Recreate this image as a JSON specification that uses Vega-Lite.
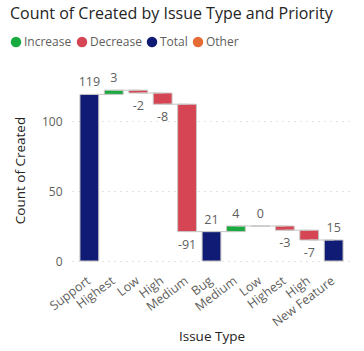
{
  "$schema": "https://vega.github.io/schema/vega-lite/v6.json",
  "autosize": {"type": "none"},
  "width": 279,
  "height": 182,
  "padding": {"left": 72, "top": 79, "right": 13, "bottom": 90},
  "background": "white",
  "title": {
    "text": "Count of Created by Issue Type and Priority",
    "anchor": "start",
    "frame": "group",
    "dx": -62,
    "offset": 14,
    "font": "Open Sans",
    "fontSize": 16,
    "fontWeight": "normal",
    "color": "#252423"
  },
  "data": {
    "values": [
      {"key": "01|Support", "start": 0, "end": 119, "type": "Total", "label": "119", "last": false},
      {"key": "02|Highest", "start": 119, "end": 122, "type": "Increase", "label": "3", "last": false},
      {"key": "03|Low", "start": 122, "end": 120, "type": "Decrease", "label": "-2", "last": false},
      {"key": "04|High", "start": 120, "end": 112, "type": "Decrease", "label": "-8", "last": false},
      {"key": "05|Medium", "start": 112, "end": 21, "type": "Decrease", "label": "-91", "last": false},
      {"key": "06|Bug", "start": 0, "end": 21, "type": "Total", "label": "21", "last": false},
      {"key": "07|Medium", "start": 21, "end": 25, "type": "Increase", "label": "4", "last": false},
      {"key": "08|Low", "start": 25, "end": 25, "type": "Increase", "label": "0", "last": false},
      {"key": "09|Highest", "start": 25, "end": 22, "type": "Decrease", "label": "-3", "last": false},
      {"key": "10|High", "start": 22, "end": 15, "type": "Decrease", "label": "-7", "last": false},
      {"key": "11|New Feature", "start": 0, "end": 15, "type": "Total", "label": "15", "last": true}
    ]
  },
  "encoding": {
    "x": {
      "field": "key",
      "type": "ordinal",
      "sort": null,
      "scale": {"paddingInner": 0.23, "paddingOuter": 0.325},
      "axis": {
        "title": "Issue Type",
        "labelExpr": "split(datum.value, '|')[1]",
        "labelAngle": -37,
        "labelAlign": "right",
        "labelBaseline": "top",
        "labelFont": "Open Sans",
        "labelFontSize": 12.5,
        "labelColor": "#605E5C",
        "labelOffset": -4,
        "domain": false,
        "ticks": false,
        "labelPadding": 13,
        "titleFont": "Open Sans",
        "titleFontSize": 13.5,
        "titleFontWeight": "normal",
        "titleColor": "#252423",
        "titlePadding": 1
      }
    }
  },
  "layer": [
    {
      "mark": {"type": "bar", "stroke": "#C8C6C4", "strokeWidth": 1},
      "encoding": {
        "y": {
          "field": "start",
          "type": "quantitative",
          "scale": {"domain": [0, 130], "nice": false},
          "axis": {
            "title": "Count of Created",
            "values": [0, 50, 100],
            "labelFont": "Open Sans",
            "labelFontSize": 12,
            "labelColor": "#605E5C",
            "labelPadding": 10,
            "domain": false,
            "ticks": false,
            "grid": true,
            "gridColor": "#C8C6C4",
            "gridDash": [1, 5],
            "gridWidth": 1,
            "titleFont": "Open Sans",
            "titleFontSize": 13.5,
            "titleFontWeight": "normal",
            "titleColor": "#252423",
            "titlePadding": 14
          }
        },
        "y2": {"field": "end"},
        "color": {
          "field": "type",
          "type": "nominal",
          "scale": {
            "domain": ["Increase", "Decrease", "Total", "Other"],
            "range": ["#1AAB40", "#D64554", "#0F1B74", "#E66C37"]
          },
          "legend": {
            "title": null,
            "orient": "none",
            "direction": "horizontal",
            "legendX": -62,
            "legendY": -43,
            "symbolType": "circle",
            "symbolSize": 110,
            "symbolStrokeWidth": 0,
            "labelFont": "Open Sans",
            "labelFontSize": 12,
            "labelColor": "#605E5C",
            "labelOffset": 2,
            "columnPadding": 4
          }
        }
      }
    },
    {
      "transform": [{"filter": "!datum.last"}],
      "mark": {"type": "tick", "orient": "horizontal", "color": "#C8C6C4", "thickness": 1, "size": 25, "xOffset": 12.2, "opacity": 1},
      "encoding": {
        "y": {"field": "end", "type": "quantitative"}
      }
    },
    {
      "transform": [{"filter": "datum.type !== 'Decrease'"}],
      "mark": {"type": "text", "baseline": "bottom", "dy": -5, "font": "Open Sans", "fontSize": 12.5, "color": "#605E5C"},
      "encoding": {
        "y": {"field": "end", "type": "quantitative"},
        "text": {"field": "label"}
      }
    },
    {
      "transform": [{"filter": "datum.type === 'Decrease'"}],
      "mark": {"type": "text", "baseline": "top", "dy": 7, "font": "Open Sans", "fontSize": 12.5, "color": "#605E5C"},
      "encoding": {
        "y": {"field": "end", "type": "quantitative"},
        "text": {"field": "label"}
      }
    }
  ],
  "config": {"view": {"stroke": null}}
}
